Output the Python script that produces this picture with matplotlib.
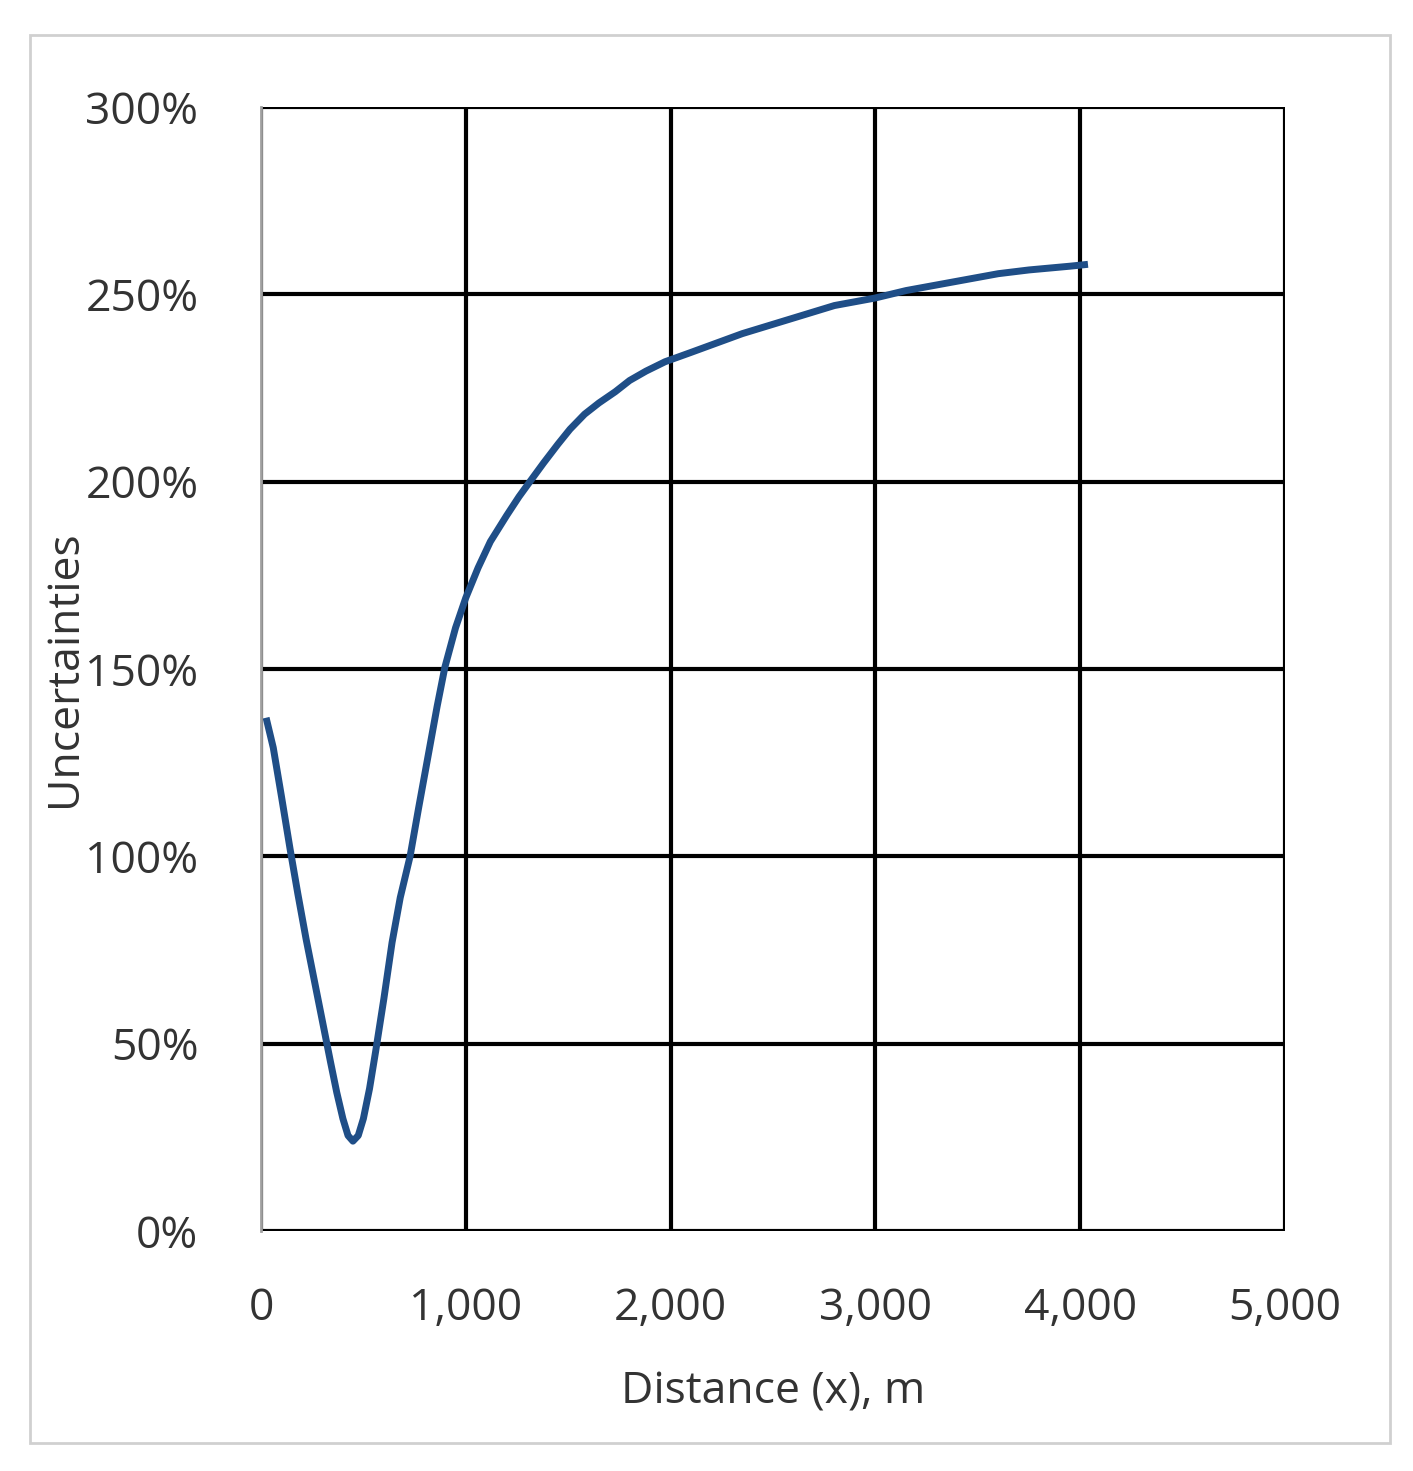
import matplotlib
matplotlib.use('Agg')
import matplotlib.pyplot as plt
from matplotlib.patches import Rectangle
from matplotlib.ticker import FuncFormatter, StrMethodFormatter

# curve: distance (m) vs uncertainty (%)
distance = [25, 60, 100, 142, 180, 220, 260, 300, 340, 370, 400, 425, 449,
            475, 500, 530, 560, 600, 640, 680, 728, 770, 820, 860, 898,
            950, 1000, 1060, 1120, 1200, 1260, 1313, 1380, 1450, 1509, 1580,
            1650, 1730, 1800, 1880, 1973, 2100, 2200, 2350, 2500, 2650, 2800,
            2998, 3150, 3300, 3450, 3600, 3750, 3850, 3950, 4038]
uncert = [137, 129, 116, 102, 90, 78, 67, 56, 45, 37, 30, 25.5, 24,
          25.5, 30, 38, 48, 62, 77, 89, 100, 113, 128, 140, 150.5,
          161, 169, 177, 184, 191, 196, 200, 205, 210, 214, 218,
          221, 224, 227, 229.5, 232, 234.5, 236.5, 239.5, 242, 244.5, 247,
          249, 251, 252.5, 254, 255.5, 256.5, 257, 257.5, 258]

x_ticks = [0, 1000, 2000, 3000, 4000, 5000]
y_ticks = [0, 50, 100, 150, 200, 250, 300]

fig = plt.figure(figsize=(14.13, 14.71), dpi=100)
fig.patches.append(Rectangle((30 / 1413, 1 - 1443 / 1471), 1360 / 1413, 1408 / 1471,
                             transform=fig.transFigure, fill=False,
                             edgecolor='#d0d0d0', linewidth=2))
ax = fig.add_axes([0.1847, 0.1631, 0.7247, 0.7642])

ax.plot(distance, uncert, color='#1f4e87', linewidth=5, solid_capstyle='butt',
        solid_joinstyle='round')

ax.set_xlim(0, 5000)
ax.set_ylim(0, 300)
ax.set_xticks(x_ticks)
ax.set_yticks(y_ticks)
ax.xaxis.set_major_formatter(StrMethodFormatter('{x:,.0f}'))
ax.yaxis.set_major_formatter(FuncFormatter(lambda v, p: '%d%%' % v))
ax.grid(True, color='black', linewidth=3)
ax.set_axisbelow(True)
for s in ['top', 'right', 'bottom']:
    ax.spines[s].set_visible(False)
ax.spines['left'].set_color('#a0a0a0')
ax.spines['left'].set_linewidth(2)
ax.tick_params(axis='x', length=0, labelsize=32, colors='#333333', pad=40)
ax.tick_params(axis='y', length=0, labelsize=32, colors='#333333', pad=45)
for lab in ax.get_xticklabels() + ax.get_yticklabels():
    lab.set_fontfamily('Open Sans')
    lab.set_horizontalalignment('center')
for lab in ax.get_yticklabels():
    lab.set_horizontalalignment('right')
ax.tick_params(axis='y', pad=45)

ax.set_xlabel('Distance (x), m', fontsize=32, family='Open Sans', color='#333333', labelpad=28)
ax.set_ylabel('Uncertainties', fontsize=32, family='Open Sans', color='#333333', labelpad=-2)
ax.yaxis.set_label_coords(-0.17, 0.5)

fig.savefig('out.png', dpi=100)
